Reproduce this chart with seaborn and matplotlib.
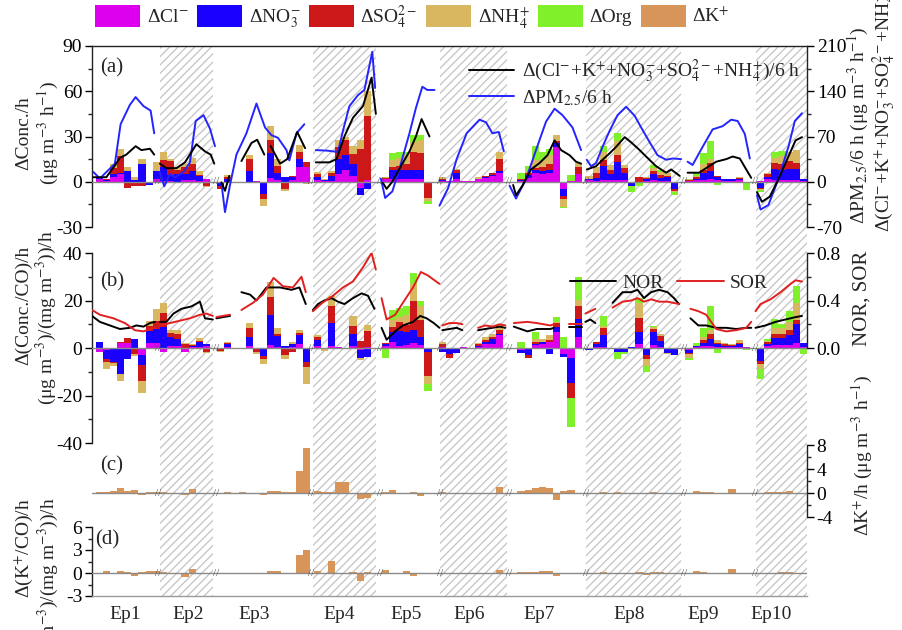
import numpy as np
import pandas as pd
import matplotlib
matplotlib.use("Agg")
import matplotlib.pyplot as plt
import seaborn as sns
from matplotlib.patches import Patch
from matplotlib.lines import Line2D
from matplotlib.ticker import MultipleLocator, FixedLocator

sns.set_theme(style="ticks")
plt.rcParams["font.family"] = ["Liberation Serif", "DejaVu Serif"]
plt.rcParams["mathtext.fontset"] = "stix"
plt.rcParams["axes.unicode_minus"] = False
plt.rcParams["hatch.linewidth"] = 0.9

# ---------------- data ----------------
EPISODES = ["Ep1", "Ep2", "Ep3", "Ep4", "Ep5", "Ep6", "Ep7", "Ep8", "Ep9", "Ep10"]
EP_START = [0.5, 9.5, 17.5, 31, 40.5, 48.5, 59.5, 69, 83, 93]      # hour index of first bar
EP_LABEL_X = [4.1, 12.9, 22.2, 34.0, 43.4, 52.3, 62.1, 74.6, 85.0, 94.5]
SHADED = [(9.0, 16.4), (30.4, 39.2), (48.2, 57.6), (68.6, 81.9), (92.4, 99.5)]
BREAKS = [8.8, 16.8, 30.2, 39.8, 48.2, 57.8, 68.6, 82.3, 92.2]

# panel (a): hourly change of concentration (ug m-3 h-1)
A_CL = [[1.5, 0.5, 3, 5, 0, 0, 0, 0, 2],
        [0.5, 0.5, 0, 1, 1, 0.5, 1.5],
        [0, 0, 0, 0, 0, 0.3, 0, 2.5, 1, 0, 1, 9.5, 9.5],
        [1, 0.5, 0.5, 5, 8, 4, -4, 1],
        [1.5, 1.5, 1.5, 1.5, 1.5, 1.5, 0],
        [0.5, 0.3, 1.5, 0.5, 0.2, 1.5, 2.5, 4, 6],
        [0.5, 2.8, 6, 5, 6, 23, -4.5, 0.5, 5],
        [1, 0.5, 1, 1, 1, 1, 0, 0, 0.5, 1, 0.5, 0.5, 0],
        [0.5, 1, 1, 2, 1, 0.5, 0.5, 1, 0],
        [0.5, 1.5, 1, 1, 1, 1, 0.5]]
A_NO3 = [[1, 0.5, 2, 1, 7, 1, 12, -2, 5],
         [9, 4, 5, 4, 6, 3, 0],
         [-3, 2, 0, 0, 7, 0, -8, 16.5, 4.5, 3, 2, 5.5, 0],
         [2, 0.5, 3.5, 10, 10, 8, -4.5, -5],
         [0.5, 6, 6, 6, 6, 6, 0],
         [0.5, 0, 4, 0, 0, 0.5, 0.5, 0.5, 1],
         [0.5, 2, 2, 2, 2, 2.5, -5, 0, 0],
         [0.5, 2, 9.5, 4, 12, 5, -3, 0, 1, 4, 2, 2.5, -5],
         [-1, 1, 5, 5, 2, 1, 1, 1, -0.5],
         [-4, 1.5, 7.5, 6.5, 7.5, 7.5, 1]]
A_SO4 = [[0, 0.5, 4, 11, -4, -3, -3, 0, 0],
         [5, 9, 3, 5, 5, 1, -3],
         [-1.5, 1, 0, 0, 8, -1, -3.5, 9, 5, -5, 1, 5, 3.5],
         [2, -0.5, 1.5, 8, 10, 6.5, 22, 42.5],
         [0.5, 2, 3, 4, 12, 11.5, -10.5],
         [1, 0.3, 2.5, 0, 0, 0, 0.5, 1, 8],
         [0.5, 1, 1, 3, 4, 1.5, -2, 0, 5],
         [0.5, 3, 4, 3, 5, 3, 0, 3, 1, 2, 2, 1, -1],
         [0.5, 1, 2, 5.5, 0.5, 0.5, 0.5, 0.5, 0],
         [-0.5, 2, 4, 4, 5, 4, 0]]
A_NH4 = [[0.5, 0.5, 3, 5, 2.5, 2, 3, 0, 6],
         [5, 1.5, 2, 2, 4, 2.5, -0.5],
         [0, 1.5, 0, 0, 3, 0, -4.5, 9, 4.5, -1, 0, 4.5, -1.5],
         [1.5, 1, 1.5, 4.5, 2, 5.5, 5.5, 16.5],
         [0.5, 5, 5, 6, 7, 8.5, -2.5],
         [1, 0, 0.5, 0, 0, 1, 0.5, 0.5, 5],
         [0.5, 1, 5.5, 4.5, 6, 4, -5, 0, 2.5],
         [2, 4.5, 5.5, 3, 9, 2, 0, 0, 0.5, 2, 2, 2, -1],
         [1, 1, 4, 2.5, 0.5, 0, 0, 0.5, 0],
         [-1, 1, 3, 5.5, 6.5, 8.5, 0]]
A_ORG = [[0, 0, 0, 0, 0, 0, 0, 0, 0],
         [0, 0, 0, 0, 0, 0, 0],
         [0, 0, 0, 0, 0, 0, 0, 0, 0, 0, 0, 0, 0],
         [0, 0, 0, 0, 0, 0, 0, 0],
         [0, 4.5, 4.5, 2, 4.5, 3.5, -2],
         [0, 0, 0, 0, 0, 0, 0, 0, 0],
         [3.5, 3.8, 9.5, 5.5, 4, 0, -1, 4, 0],
         [0, 0, 4, 0, 5, 0, -4, -3, 0, 2, 1.5, 0, -2],
         [0, 2, 7, 12, -2, 0, 0, 0, -5],
         [-1.5, 0, 4.5, 3.5, 0, 0, 0]]

# panel (b): hourly change of CO-normalised concentration
B_CL = [[-1.5, -1, -0.5, 2, 2, 0, -3, 2, 2],
        [-1.5, 1, 1, -1.5, 0.5, 0.5, 1],
        [-0.5, 0.3, 0, 0, 0.8, 0, 0, 1.1, 0.5, 0, 0.5, 1.5, -0.5],
        [1, 0, 1, 0.3, 0, 1, -1, 0.5],
        [1, 2.6, 1, 1.4, 1.9, 1.1, -0.3],
        [0.5, 0, 0, 0.3, 0, 0.5, 1.5, 1.5, 5.4],
        [-1, 0, 1.1, 1.8, 2.6, 6.9, -2.4, -4.3, 4.7],
        [-0.5, 0.5, 0.5, 0, 0, 0, 0, 1.5, 0, 1.1, 0.6, 0, 0],
        [-1, 0.5, 1, 1, 0.5, 0.5, 0.5, 0.5, 0.3],
        [0, 0.9, 1.1, 1.4, 1.1, 1.9, 0.5]]
B_NO3 = [[2.5, -3.5, -5.5, -11, -4.5, 4, -4, 5, 6],
         [9, 3.7, 3, 0, 0.5, 2.1, 0.5],
         [0, 1.2, 0, 0, 4, 0, -3.5, 12.9, 4.5, 1, 1, 4, -5.5],
         [2.5, 0, 9.4, 0, 0, 5, -3, -3.9],
         [0.5, 4.3, 6, 5.4, 5.7, 3.6, -1.4],
         [-1.5, -2.4, -2, 0, 0, 0.5, 1, 2.5, 0.3],
         [-1, -3.1, 0.7, 0.7, -2.4, 2.1, -1.5, -10.3, 7.4],
         [-0.5, 1, 5, 0, -1.7, -1.5, 0.3, 5.4, -3.1, 5.7, 2.5, -2, -2.9],
         [-1, 0.3, 1, 3, 1, 0.5, 0.5, 1, 0.3],
         [-5.3, 0.6, 3.1, 2.9, 4.3, 8.1, 1.4]]
B_SO4 = [[0, -1.5, -0.5, 0.5, 2.2, -2.4, -7, 2.4, 3.5],
         [5.7, 1.5, 2, 1.5, 0.3, 0.5, -1.5],
         [-0.7, 0.6, 0, 0, 3.5, -1.5, -1.2, 7.4, 1, -3, -1.5, 1, -2],
         [1, -0.5, 7.2, 0, 0, 3.3, 3, 6.5],
         [0.5, 2.1, 4, 2.9, 12.4, 7.2, -10],
         [1, -2, 0, 0, 0, 0.5, 1, 0.5, 2],
         [0, -1.2, 0.7, 0, 0.7, 1.4, 0, -6.4, 5.5],
         [0, 1, 2.9, 0, 0, 0, 0, 5.7, -1.4, 1.4, 2, 0, 0],
         [-0.7, 0, 1.4, 2, 0.5, 0.5, 0.3, 0.5, 0],
         [-1.5, 0.9, 1.9, 1.7, 2.1, 1.9, 0]]
B_NH4 = [[0, -2.8, -1.2, -2.8, 0, -1, -5, 2, 5],
         [4.3, 1.5, 1.6, 0.5, 0.2, 1, -0.7],
         [-0.5, 0.5, 0, 0, 2.1, -0.9, -2, 6.4, 2.3, -1.5, 1, 1, -7],
         [1, -0.7, 4.3, 0, 0, 4, -1, 2.7],
         [0, 2.9, 2, 4.3, 6.9, 5.8, -3.6],
         [1, 0, 0, 0, 0, 0.7, 1, 1.2, 1.8],
         [0, 0, 1.2, 1.2, 2.1, 0.7, 0, 0, 2.8],
         [0, 0, 1, 0, 0, 0, 0, 6.4, -2.9, 0.5, 0.9, -0.5, 0],
         [-1.4, 0, 1.4, 1.5, 1.3, 0.5, 0.5, 1.3, 0],
         [-2.1, 0.6, 2.4, 2.3, 3.6, 7.1, 0]]
B_ORG = [[0, 0, 0, 0, 0, 0, 0, 0, 0],
         [0, 0, 0, 0, 0, 0, 0],
         [0, 0, 0, 0, 0, 0, 0, 0, 0, 0, 0, 0, 0],
         [0, 0, 0, 0, 0, 0, 0, 0],
         [-4, 4.2, 3.9, 3.6, 4.5, 2, -2.8],
         [0, 0, 0, 0, 0, 0, 0, 0, 0],
         [2.6, 0, 3.2, 0, 0, 1.8, 4.7, -12.4, 9.6],
         [0, 0, 3.9, 0, -2.9, -1, 0, 1.9, -2.6, 0.5, 0, 0, 0],
         [-1.1, 1.5, 3.8, 10, -2, 0, 0, 0, -1],
         [-4.1, 1, 3.8, 1.7, 4.6, 7.1, -2.4]]

# panel (c): delta K+/h ; panel (d): delta (K+/CO)/h
C_K = [[0.1, 0.2, 0.3, 0.8, 0.3, 0.5, -0.4, 0.1, 0.1],
       [0.2, 0, 0, -0.3, 0.6, 0, 0],
       [0, 0.15, 0, 0.1, 0, 0, -0.3, 0.3, 0.4, 0.1, 0.2, 3.7, 7.5],
       [0.3, 0.1, 0.1, 1.9, 1.9, 0.05, -1.0, -0.8],
       [0.1, 0.5, 0.05, 0, 0.2, -0.5, 0],
       [0.1, 0, 0, 0, 0, 0, 0, 0, 1.0],
       [0.3, 0.5, 0.8, 1.0, 0.9, -1.2, 0.4, 0.45, 0],
       [0.05, 0.05, 0.2, 0, 0.2, 0, -0.05, 0.05, 0, 0.1, 0.05, 0, 0],
       [0.05, 0.3, 0.25, 0.15, 0, -0.2, 0.7, -0.2, 0],
       [0.05, 0.1, 0.1, 0.1, 0.3, -0.1, 0]]
D_K = [[-0.1, 0.3, 0.05, 0.3, 0.1, -0.4, 0.1, 0.3, 0.2],
       [0.1, 0.05, 0, -0.5, 0.5, 0, 0],
       [0.05, 0, 0, 0.03, 0, 0, -0.1, 0.3, 0.25, 0, 0.05, 2.3, 3.0],
       [0.3, -0.1, 1.6, 0, 0, 0.15, -1.0, 0.1],
       [0.4, -0.1, 0, 0.3, -0.45, -0.1, 0],
       [-0.05, 0, 0, 0, 0, 0, 0, 0, 0.4],
       [0.1, 0.1, 0.15, 0.2, 0.25, -0.35, 0, 0, 0],
       [0.05, -0.1, 0.1, 0, 0, -0.1, 0, 0.15, -0.2, 0.1, 0.1, 0, 0],
       [0, 0.2, 0.1, 0.05, 0, -0.15, 0.5, -0.1, 0],
       [0, 0.05, 0.05, 0.1, 0.15, -0.05, 0]]

# panel (a) lines (right axis, ug m-3 per 6 h)
PM_X = [[-0.3, 0.6, 2.7, 3.5, 4.8, 5.6, 6.7, 7.7, 8.2],
        [9.0, 9.6, 10.4, 11.1, 12.3, 13.2, 14.0, 15.1, 16.0, 16.7],
        [17.6, 18.1, 18.8, 19.7, 21.1, 22.5, 23.7, 24.6, 25.5, 26.7, 27.1, 28.1, 29.2],
        [30.8, 32.5, 33.9, 34.6, 35.5, 36.7, 37.6, 38.7, 39.1],
        [39.9, 40.5, 41.5, 42.5, 43.9, 44.8, 45.7, 46.4, 47.4],
        [48.1, 49.3, 50.5, 51.9, 53.7, 54.6, 55.5, 56.4, 57.1],
        [57.9, 58.8, 60.2, 61.6, 63.0, 64.2, 65.3, 66.7, 67.9],
        [68.7, 69.3, 70.0, 70.9, 71.9, 73.0, 74.2, 75.4, 76.3, 77.5, 78.6, 79.8, 80.7, 81.9],
        [82.8, 83.5, 84.9, 86.3, 87.7, 88.9, 89.8, 90.8, 91.5],
        [92.5, 93.0, 94.1, 95.5, 96.9, 97.8, 98.8]]
PM_Y = [[15, 5, 28, 89, 119, 131, 117, 110, 75],
        [15, -7, 12, 7, 15, 30, 94, 103, 82, 55],
        [-2, -47, -5, 42, 75, 121, 84, 72, 68, 49, 33, 75, 89],
        [49, 48, 46, 79, 117, 134, 142, 201, 145],
        [5, -25, -15, 20, 75, 114, 147, 142, 142],
        [-37, -10, 35, 75, 96, 92, 75, 77, 47],
        [-6, -26, 4, 49, 93, 113, 103, 84, 49],
        [34, 24, 29, 54, 79, 103, 116, 102, 84, 61, 41, 34, 36, 35],
        [31, 26, 54, 81, 86, 96, 94, 74, 36],
        [-21, -43, -36, 4, 54, 94, 106]]
ION_X = [[-0.3, 1.5, 2.7, 3.4, 4.3, 5.6, 6.4, 7.6, 8.2],
         [9.0, 9.9, 11.3, 12.5, 14.1, 15.3, 16.1, 16.6],
         [17.6, 18.1, 18.7],
         [20.4, 21.8, 22.6, 23.6],
         [24.5, 25.8, 26.8, 28.2, 29.3],
         [30.8, 32.7, 33.7, 34.8, 36.0, 37.4, 38.6, 39.2],
         [40.2, 40.7, 41.5, 42.5, 43.9, 44.8, 45.6, 46.7],
         [58.4, 58.8, 59.7, 60.9, 62.1, 63.2, 64.2, 65.1, 66.3, 67.2, 67.9],
         [68.7, 70.0, 70.9, 71.9, 72.8, 74.0, 74.9, 75.9, 77.0, 78.4, 79.8, 80.5, 81.7],
         [82.8, 84.4, 85.8, 86.8, 88.2, 89.1, 90.1, 91.0, 91.7],
         [92.5, 93.2, 94.3, 95.5, 96.7, 97.9, 98.8]]
ION_Y = [[7, 7, 25, 37, 42, 55, 49, 51, 42],
         [28, 21, 21, 30, 58, 47, 42, 28],
         [-1, -14, 9],
         [32, 60, 65, 42],
         [55, 28, 35, 77, 52],
         [30, 30, 35, 70, 99, 117, 161, 105],
         [-2, -11, 0, 20, 47, 70, 97, 70],
         [-5, -21, -6, 19, 29, 41, 64, 49, 41, 31, 28],
         [19, 24, 34, 44, 54, 69, 61, 51, 39, 24, 14, 19, 9],
         [14, 14, 24, 31, 35, 39, 36, 19, 6],
         [-16, -31, -23, 4, 34, 64, 69]]

# panel (b) lines (right axis)
NOR_X = [[-0.5, 0.6, 2.0, 3.4, 4.8, 5.7, 6.7, 7.6, 8.3],
         [9.0, 9.9, 10.9, 12.0, 13.4, 14.6, 15.3, 16.4],
         [16.9, 17.8, 18.8],
         [20.4, 21.6, 22.5, 23.9, 25.8, 27.4, 28.5, 29.4],
         [30.4, 31.1, 32.0, 33.0, 33.9, 34.8, 36.0, 37.2, 38.1, 39.0],
         [40.0, 40.7, 41.9, 43.0, 44.4, 45.4, 46.3, 47.3, 48.1],
         [48.5, 49.5, 50.5, 51.3],
         [53.5, 54.5, 55.5, 56.5, 57.3],
         [58.5, 60.4, 61.7, 63.6, 64.1],
         [66.2, 68.0],
         [68.5, 69.2, 69.9],
         [72.3, 73.7, 74.9, 75.8, 76.7, 77.7, 78.8, 80.0, 80.9, 81.6],
         [83.2, 84.3, 85.4, 86.8, 88.2, 89.6, 91.0, 91.7],
         [92.3, 93.7, 95.1, 96.5, 97.9, 98.8]]
NOR_Y = [[0.27, 0.22, 0.19, 0.16, 0.17, 0.19, 0.18, 0.21, 0.22],
         [0.22, 0.22, 0.29, 0.33, 0.35, 0.39, 0.25, 0.24],
         [0.25, 0.26, 0.27],
         [0.47, 0.45, 0.40, 0.51, 0.51, 0.49, 0.51, 0.37],
         [0.32, 0.37, 0.40, 0.42, 0.39, 0.37, 0.42, 0.46, 0.44, 0.33],
         [0.17, 0.07, 0.14, 0.19, 0.22, 0.27, 0.25, 0.21, 0.17],
         [0.15, 0.16, 0.17, 0.15],
         [0.15, 0.16, 0.17, 0.18, 0.17],
         [0.18, 0.14, 0.16, 0.16, 0.17],
         [0.18, 0.18],
         [0.22, 0.24, 0.21],
         [0.38, 0.47, 0.47, 0.49, 0.42, 0.47, 0.49, 0.47, 0.42, 0.37],
         [0.25, 0.19, 0.19, 0.17, 0.17, 0.16, 0.17, 0.17],
         [0.17, 0.19, 0.22, 0.24, 0.26, 0.27]]
SOR_X = [[-0.5, 0.6, 2.5, 4.1, 5.5, 6.7, 7.6, 8.3],
         [9.0, 10.4, 11.8, 13.2, 14.6, 15.5, 16.4],
         [16.9, 17.8, 18.8],
         [20.4, 22.0, 23.4, 24.9, 26.2, 27.6, 28.8, 29.4],
         [30.4, 31.7, 33.2, 34.6, 36.0, 37.4, 38.6, 39.2],
         [40.0, 40.7, 41.9, 43.3, 44.4, 45.5, 46.5, 47.4, 48.1],
         [48.5, 49.5, 50.5, 51.3],
         [53.5, 54.5, 55.5, 56.5, 57.3],
         [58.5, 60.4, 61.7, 63.6, 64.1],
         [66.2, 68.0],
         [68.5, 69.2, 69.9],
         [72.3, 73.7, 74.9, 75.8, 76.7, 77.7, 78.8, 80.0, 81.6],
         [83.2, 84.3, 85.4, 86.8, 88.2, 89.6, 91.0, 91.7],
         [92.3, 93.0, 94.4, 95.8, 97.2, 97.9, 98.8]]
SOR_Y = [[0.32, 0.28, 0.25, 0.21, 0.15, 0.14, 0.16, 0.17],
         [0.19, 0.21, 0.23, 0.25, 0.28, 0.29, 0.27],
         [0.26, 0.27, 0.28],
         [0.32, 0.38, 0.45, 0.59, 0.52, 0.51, 0.60, 0.47],
         [0.31, 0.38, 0.44, 0.51, 0.56, 0.68, 0.80, 0.66],
         [0.42, 0.24, 0.28, 0.41, 0.51, 0.64, 0.61, 0.57, 0.54],
         [0.19, 0.21, 0.21, 0.20],
         [0.17, 0.19, 0.18, 0.20, 0.19],
         [0.21, 0.22, 0.21, 0.19, 0.20],
         [0.20, 0.20],
         [0.29, 0.31, 0.33],
         [0.34, 0.39, 0.40, 0.42, 0.39, 0.41, 0.39, 0.39, 0.37],
         [0.33, 0.31, 0.28, 0.16, 0.14, 0.15, 0.17, 0.22],
         [0.31, 0.37, 0.41, 0.47, 0.54, 0.57, 0.56]]

# ---------------- style ----------------
COLORS = ["#dd00ee", "#1a00ff", "#cc1818", "#d9b660", "#80f02a"]
K_COLOR = "#d8955a"
FS = 14
XLIM = (-0.5, 99.5)


def stack_bars(ax, comps):
    for e, st in enumerate(EP_START):
        n = len(comps[0][e])
        x = st + np.arange(n)
        pos = np.zeros(n)
        neg = np.zeros(n)
        for comp, col in zip(comps, COLORS):
            v = np.asarray(comp[e], float)
            p = np.clip(v, 0, None)
            q = np.clip(v, None, 0)
            ax.bar(x, p, bottom=pos, width=1.0, color=col, linewidth=0, zorder=2)
            ax.bar(x, q, bottom=neg, width=1.0, color=col, linewidth=0, zorder=2)
            pos += p
            neg += q


def single_bars(ax, vals):
    for e, st in enumerate(EP_START):
        v = np.asarray(vals[e], float)
        x = st + np.arange(len(v))
        ax.bar(x, v, width=1.0, color=K_COLOR, linewidth=0, zorder=2)


def seg_frame(xs, ys):
    rows = []
    for i, (xx, yy) in enumerate(zip(xs, ys)):
        for a, b in zip(xx, yy):
            rows.append((i, a, b))
    return pd.DataFrame(rows, columns=["seg", "x", "y"])


def draw_lines(ax, xs, ys, color):
    sns.lineplot(data=seg_frame(xs, ys), x="x", y="y", units="seg", estimator=None,
                 sort=False, color=color, linewidth=1.4, ax=ax, legend=False, zorder=4)
    ax.set_xlabel("")
    ax.set_ylabel("")


def zero_line(ax):
    ax.axhline(0, color="#8a8a8a", lw=1.0, zorder=3)
    for b in BREAKS:
        ax.text(b, 0, "//", ha="center", va="center", fontsize=8, color="#555555", zorder=5)


def style_y(ax, side="left"):
    ax.tick_params(axis="y", which="major", direction="out", length=5, width=1,
                   labelsize=FS, colors="black", left=(side == "left"), right=(side == "right"),
                   labelleft=(side == "left"), labelright=(side == "right"), pad=2)
    ax.tick_params(axis="y", which="minor", direction="out", length=3, width=1,
                   left=(side == "left"), right=(side == "right"))
    ax.tick_params(axis="x", which="both", bottom=False, top=False, labelbottom=False)


def hide_spines(ax, keep):
    for s in ["left", "right", "top", "bottom"]:
        ax.spines[s].set_visible(s in keep)
        ax.spines[s].set_color("#222222")
        ax.spines[s].set_linewidth(1.0)


fig = plt.figure(figsize=(9.02, 6.30), dpi=100)
L, W = 92 / 902, 715 / 902


def rect(top, bottom):
    return [L, 1 - bottom / 630, W, (bottom - top) / 630]


# hatched background for even episodes
bg = fig.add_axes(rect(46, 596))
bg.set_xlim(*XLIM)
bg.set_ylim(0, 1)
bg.axis("off")
for s0, s1 in SHADED:
    bg.axvspan(s0, s1, facecolor="white", edgecolor="#c4c4c4", hatch="////", linewidth=0)

# ---- panel (a)
axA = fig.add_axes(rect(46, 227))
axA.patch.set_alpha(0)
axA.set_xlim(*XLIM)
axA.set_ylim(-30, 90)
stack_bars(axA, [A_CL, A_NO3, A_SO4, A_NH4, A_ORG])
zero_line(axA)
axA.set_yticks([-30, 0, 30, 60, 90])
axA.yaxis.set_minor_locator(MultipleLocator(15))
style_y(axA, "left")
hide_spines(axA, ["left", "top"])
axA.text(0.012, 0.93, "(a)", transform=axA.transAxes, fontsize=FS + 1, va="top")

axA2 = axA.twinx()
axA2.set_xlim(*XLIM)
draw_lines(axA2, PM_X, PM_Y, "#2424ff")
draw_lines(axA2, ION_X, ION_Y, "black")
axA2.set_ylim(-70, 210)
axA2.set_yticks([-70, 0, 70, 140, 210])
axA2.yaxis.set_minor_locator(MultipleLocator(35))
style_y(axA2, "right")
hide_spines(axA2, ["right"])
hl = [Line2D([], [], color="black", lw=1.4), Line2D([], [], color="#2424ff", lw=1.4)]
axA2.legend(hl, [r"Δ(Cl$^{-}$+K$^{+}$+NO$_3^{-}$+SO$_4^{2-}$+NH$_4^{+}$)/6 h", r"ΔPM$_{2.5}$/6 h"],
            loc="upper right", bbox_to_anchor=(808 / 902, 1 - 50 / 630),
            bbox_transform=fig.transFigure, frameon=False, fontsize=FS,
            handlelength=2.3, handletextpad=0.4, labelspacing=0.15, borderaxespad=0)

# ---- panel (b)
axB = fig.add_axes(rect(253, 443))
axB.patch.set_alpha(0)
axB.set_xlim(*XLIM)
axB.set_ylim(-40, 40)
stack_bars(axB, [B_CL, B_NO3, B_SO4, B_NH4, B_ORG])
zero_line(axB)
axB.set_yticks([-40, -20, 0, 20, 40])
axB.yaxis.set_minor_locator(MultipleLocator(10))
style_y(axB, "left")
hide_spines(axB, ["left"])
axB.text(0.012, 0.90, "(b)", transform=axB.transAxes, fontsize=FS + 1, va="top")

axB2 = axB.twinx()
axB2.set_xlim(*XLIM)
draw_lines(axB2, NOR_X, NOR_Y, "black")
draw_lines(axB2, SOR_X, SOR_Y, "#e02020")
axB2.set_ylim(-0.8, 0.8)
axB2.yaxis.set_major_locator(FixedLocator([0.0, 0.4, 0.8]))
axB2.yaxis.set_minor_locator(FixedLocator([0.2, 0.6]))
axB2.set_yticklabels(["0.0", "0.4", "0.8"])
style_y(axB2, "right")
hide_spines(axB2, ["right"])
axB2.spines["right"].set_bounds(0, 0.8)
hb = [Line2D([], [], color="black", lw=1.4), Line2D([], [], color="#e02020", lw=1.4)]
axB2.legend(hb, ["NOR", "SOR"], loc="center right", ncol=2,
            bbox_to_anchor=(775 / 902, 1 - 283 / 630), bbox_transform=fig.transFigure,
            frameon=False, fontsize=FS, handlelength=2.4, handletextpad=0.3,
            columnspacing=0.7, borderaxespad=0)

# ---- panel (c)
axC = fig.add_axes(rect(445, 517))
axC.patch.set_alpha(0)
axC.set_xlim(*XLIM)
axC.set_ylim(-4, 8)
single_bars(axC, C_K)
zero_line(axC)
axC.yaxis.set_major_locator(FixedLocator([-4, 0, 4, 8]))
axC.yaxis.set_minor_locator(FixedLocator([-2, 2, 6]))
style_y(axC, "right")
hide_spines(axC, ["right"])
axC.text(0.012, 0.85, "(c)", transform=axC.transAxes, fontsize=FS + 1, va="top")

# ---- panel (d)
axD = fig.add_axes(rect(527, 596))
axD.patch.set_alpha(0)
axD.set_xlim(*XLIM)
axD.set_ylim(-3, 6)
single_bars(axD, D_K)
zero_line(axD)
axD.yaxis.set_major_locator(FixedLocator([-3, 0, 3, 6]))
axD.yaxis.set_minor_locator(FixedLocator([-1.5, 1.5, 4.5]))
style_y(axD, "left")
hide_spines(axD, ["left", "bottom"])
axD.spines["bottom"].set_color("#9a9a9a")
axD.set_xticks(EP_LABEL_X)
axD.set_xticklabels(EPISODES, fontsize=FS)
axD.tick_params(axis="x", which="both", bottom=True, length=0, labelbottom=True, pad=7)
axD.text(0.005, 0.95, "(d)", transform=axD.transAxes, fontsize=FS + 1, va="top")

# ---- axis titles
fig.text(24 / 902, 1 - 133 / 630, "ΔConc./h", rotation=90, ha="center", va="center", fontsize=FS)
fig.text(48 / 902, 1 - 133 / 630, r"(μg m$^{-3}$ h$^{-1}$)", rotation=90, ha="center", va="center", fontsize=FS)
fig.text(24 / 902, 1 - 305 / 630, "Δ(Conc./CO)/h", rotation=90, ha="center", va="center", fontsize=FS)
fig.text(46 / 902, 1 - 318 / 630, r"(μg m$^{-3}$)/(mg m$^{-3}$))/h", rotation=90, ha="center", va="center", fontsize=FS)
fig.text(24 / 902, 1 - 548 / 630, r"Δ(K$^{+}$/CO)/h", rotation=90, ha="center", va="center", fontsize=FS)
fig.text(48 / 902, 1 - 585 / 630, r"(μg m$^{-3}$)/(mg m$^{-3}$))/h", rotation=90, ha="center", va="center", fontsize=FS)

fig.text(858 / 902, 1 - 224 / 630, r"ΔPM$_{2.5}$/6 h (μg m$^{-3}$ h$^{-1}$)", rotation=90,
         ha="center", va="bottom", fontsize=FS)
fig.text(884 / 902, 1 - 232 / 630, r"Δ(Cl$^{-}$+K$^{+}$+NO$_3^{-}$+SO$_4^{2-}$+NH$_4^{+}$)/6 h",
         rotation=90, ha="center", va="bottom", fontsize=FS)
fig.text(862 / 902, 1 - 298 / 630, "NOR, SOR", rotation=90, ha="center", va="center", fontsize=FS + 1)
fig.text(862 / 902, 1 - 455 / 630, r"ΔK$^{+}$/h (μg m$^{-3}$ h$^{-1}$)", rotation=90,
         ha="center", va="center", fontsize=FS)

# ---- top legend
labels = [r"ΔCl$^{-}$", r"ΔNO$_3^{-}$", r"ΔSO$_4^{2-}$", r"ΔNH$_4^{+}$", "ΔOrg", r"ΔK$^{+}$"]
handles = [Patch(facecolor=c, edgecolor="none") for c in COLORS + [K_COLOR]]
fig.legend(handles, labels, loc="center left", bbox_to_anchor=(95 / 902, 1 - 17 / 630),
           ncol=6, frameon=False, fontsize=FS, handlelength=2.3, handleheight=1.3,
           handletextpad=0.35, columnspacing=0.45, borderaxespad=0, borderpad=0)

fig.savefig("out.png", dpi=100)
